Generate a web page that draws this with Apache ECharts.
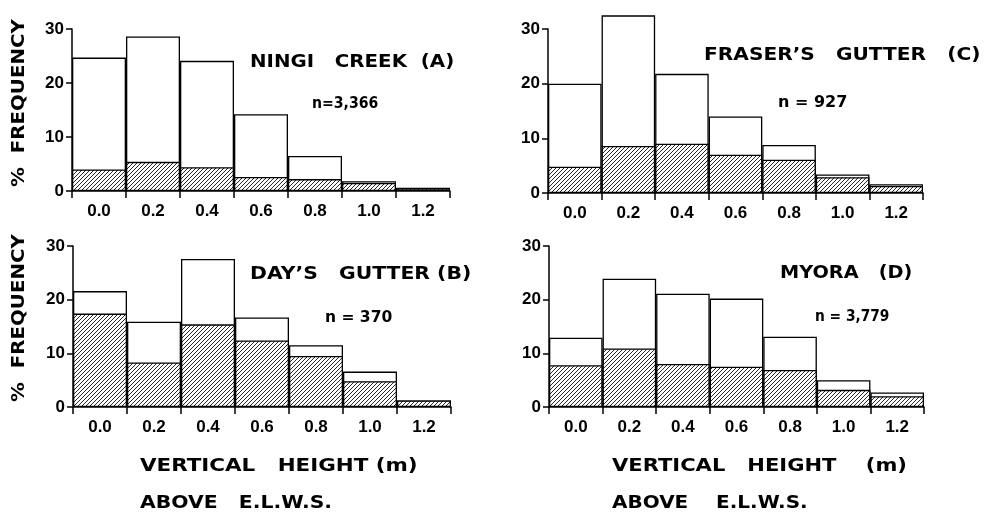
<!DOCTYPE html>
<html>
<head>
<meta charset="utf-8">
<script src="https://cdn.jsdelivr.net/npm/echarts@6/dist/echarts.min.js"></script>
<style>
  html, body { margin: 0; padding: 0; background: #fff; }
  #chart { width: 985px; height: 514px; }
</style>
</head>
<body>
<div id="chart"></div>
<script>
  // height classes above E.L.W.S. (m)
  const heights = ['0.0', '0.2', '0.4', '0.6', '0.8', '1.0', '1.2'];
  const yTicks = [0, 10, 20, 30];

  // % frequency, open bar = total, hatched bar = lower part
  const ningiTotal = [24.7, 28.6, 24.1, 14.2, 6.5, 1.8, 0.6];
  const ningiHatched = [4.0, 5.4, 4.4, 2.6, 2.2, 1.5, 0.5];
  const fraserTotal = [20.0, 32.5, 21.8, 14.0, 8.8, 3.4, 1.6];
  const fraserHatched = [4.8, 8.6, 9.0, 7.0, 6.1, 2.9, 1.3];
  const daysTotal = [21.6, 15.9, 27.6, 16.7, 11.5, 6.6, 1.2];
  const daysHatched = [17.4, 8.3, 15.4, 12.4, 9.5, 4.8, 1.2];
  const myoraTotal = [12.9, 23.9, 21.1, 20.2, 13.1, 5.0, 2.7];
  const myoraHatched = [7.8, 10.9, 8.0, 7.5, 6.9, 3.2, 2.0];

  const panels = [
    { total: ningiTotal, hatched: ningiHatched, grid: { left: 72, top: 29, width: 378, height: 162 } },
    { total: fraserTotal, hatched: fraserHatched, grid: { left: 548, top: 29, width: 375, height: 164 } },
    { total: daysTotal, hatched: daysHatched, grid: { left: 73, top: 246, width: 378, height: 161 } },
    { total: myoraTotal, hatched: myoraHatched, grid: { left: 549, top: 246, width: 375, height: 161 } },
  ];

  // diagonal hatch pattern
  const hatch = document.createElement('canvas');
  hatch.width = 4;
  hatch.height = 4;
  const ctx = hatch.getContext('2d');
  ctx.fillStyle = '#fff';
  ctx.fillRect(0, 0, 4, 4);
  ctx.strokeStyle = '#111';
  ctx.lineWidth = 0.9;
  ctx.beginPath();
  ctx.moveTo(-1, 5); ctx.lineTo(5, -1);
  ctx.moveTo(-1, 1); ctx.lineTo(1, -1);
  ctx.moveTo(3, 5); ctx.lineTo(5, 3);
  ctx.stroke();

  const font = 'Liberation Sans';
  const chart = echarts.init(document.getElementById('chart'));

  const axisLine = { show: true, lineStyle: { color: '#000', width: 1.5 } };
  const option = {
    backgroundColor: '#fff',
    animation: false,
    grid: panels.map(p => p.grid),
    xAxis: panels.map((p, i) => ({
      type: 'category',
      gridIndex: i,
      data: heights,
      boundaryGap: true,
      axisLine: axisLine,
      axisTick: { show: true, length: 7, lineStyle: { color: '#000', width: 1.5 } },
      axisLabel: { color: '#000', fontFamily: font, fontWeight: 'bold', fontSize: 17, margin: 12, interval: 0 },
      splitLine: { show: false },
    })),
    yAxis: panels.map((p, i) => ({
      type: 'value',
      gridIndex: i,
      min: yTicks[0],
      max: yTicks[yTicks.length - 1],
      interval: 10,
      axisLine: axisLine,
      axisTick: { show: true, length: 6, lineStyle: { color: '#000', width: 1.5 } },
      axisLabel: { color: '#000', fontFamily: font, fontWeight: 'bold', fontSize: 17, margin: 8 },
      splitLine: { show: false },
    })),
    series: [],
    graphic: [],
  };

  panels.forEach((p, i) => {
    option.series.push({
      type: 'bar',
      xAxisIndex: i,
      yAxisIndex: i,
      data: p.total,
      barCategoryGap: 0,
      barGap: '-100%',
      clip: false,
      itemStyle: { color: '#fff', borderColor: '#000', borderWidth: 1.3 },
    });
    option.series.push({
      type: 'bar',
      xAxisIndex: i,
      yAxisIndex: i,
      data: p.hatched,
      barCategoryGap: 0,
      barGap: '-100%',
      clip: false,
      itemStyle: { color: { image: hatch, repeat: 'repeat' }, borderColor: '#000', borderWidth: 1.3 },
    });
  });

  // stretched bold text, to mimic the wide letter spacing of the original
  const label = (text, x, y, size, stretch, extra) => Object.assign({
    type: 'text',
    x: x,
    y: y,
    scaleX: stretch,
    style: {
      text: text,
      fill: '#000',
      font: 'bold ' + size + 'px "DejaVu Sans"',
      textVerticalAlign: 'middle',
    },
  }, extra || {});

  option.graphic = [
    label('NINGI   CREEK  (A)', 250, 62, 18, 1.1),
    label('n=3,366', 312, 104, 16, 0.88),
    label('FRASER\u2019S   GUTTER   (C)', 704, 55, 18, 1.12),
    label('n = 927', 778, 103, 16, 1),
    label('DAY\u2019S   GUTTER (B)', 250, 274, 18, 1.13),
    label('n = 370', 325, 318, 16, 0.97),
    label('MYORA   (D)', 780, 273, 18, 1.07),
    label('n = 3,779', 815, 317, 16, 0.86),
    label('VERTICAL   HEIGHT (m)', 140, 466, 18, 1.19),
    label('ABOVE   E.L.W.S.', 140, 503, 18, 1.13),
    label('VERTICAL   HEIGHT    (m)', 612, 466, 18, 1.17),
    label('ABOVE    E.L.W.S.', 612, 503, 18, 1.11),
    label('%  FREQUENCY', 19, 103, 18, 1.1, { rotation: Math.PI / 2 }),
    label('%  FREQUENCY', 19, 318, 18, 1.1, { rotation: Math.PI / 2 }),
  ];
  option.graphic[12].style.textAlign = 'center';
  option.graphic[13].style.textAlign = 'center';

  chart.setOption(option);
</script>
</body>
</html>
